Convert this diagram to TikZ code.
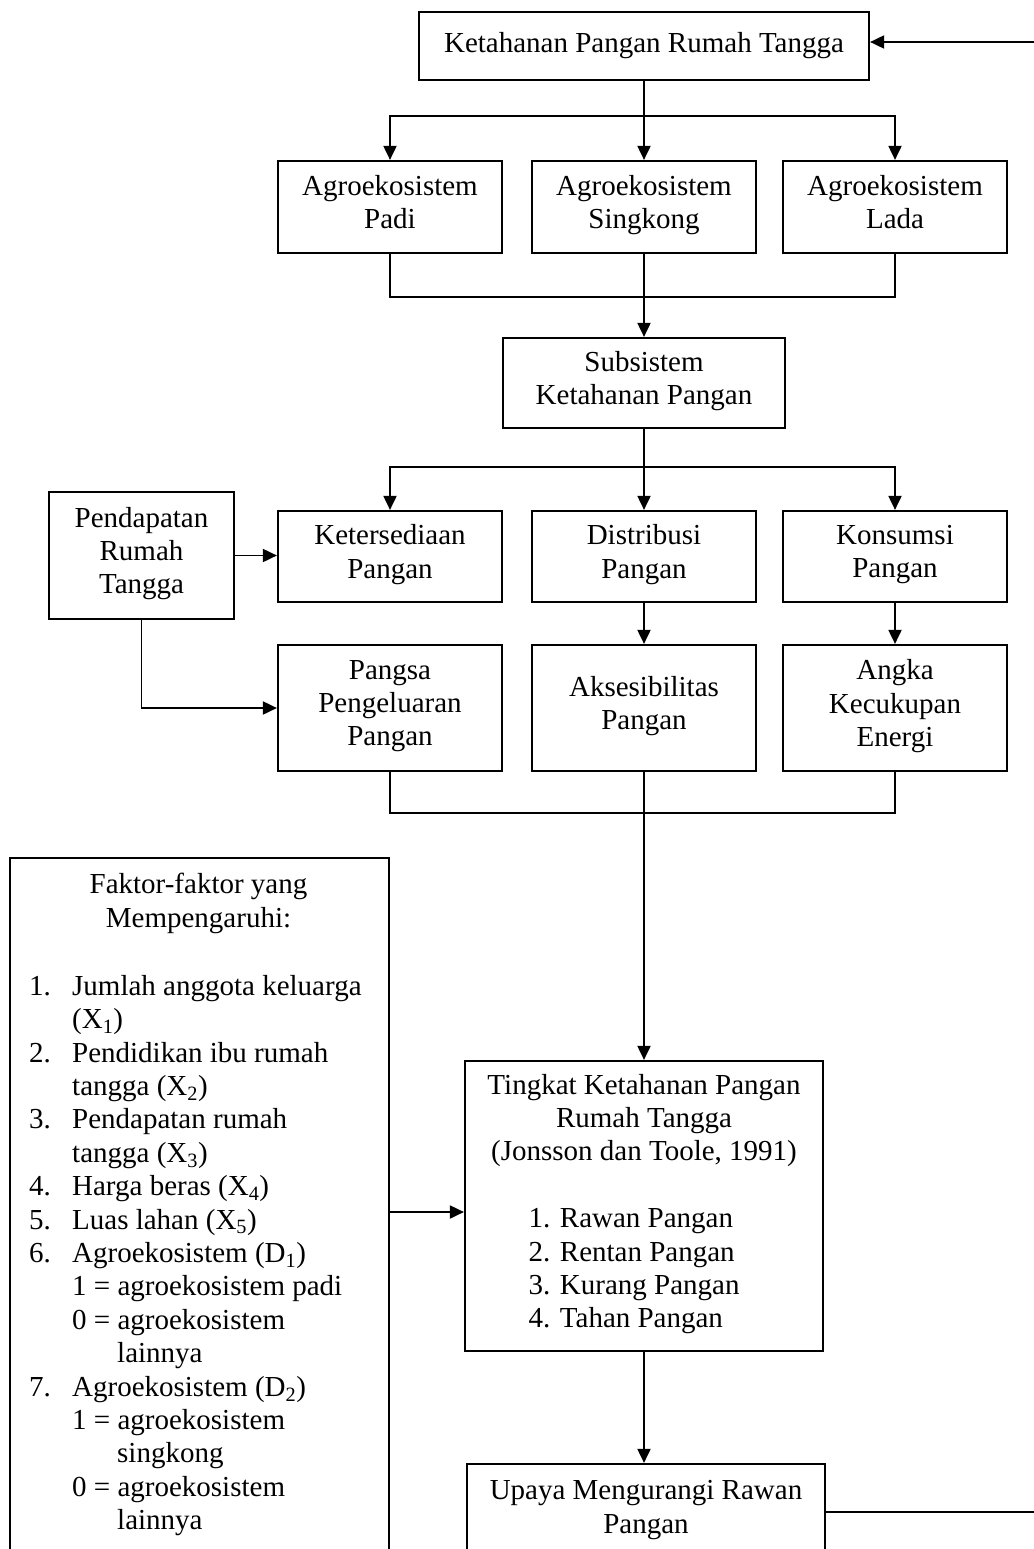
\documentclass[tikz,border=0pt]{standalone}
\usepackage{fontspec}
\setmainfont{Liberation Serif}
\usetikzlibrary{arrows.meta}
\begin{document}
\begin{tikzpicture}[x=1pt,y=-1pt,
  txt/.style={font=\fontsize{29}{33.4}\selectfont, inner sep=0pt},
  box/.style={draw, line width=2.2pt, align=center, txt,
    execute at begin node=\strut, execute at end node={\rule[-3pt]{0pt}{3pt}}},
  oneline/.style={execute at end node=\strut},
  arr/.style={line width=1.9pt, -{Triangle[length=14pt,width=13pt]}},
  ln/.style={line width=1.9pt},
  thinln/.style={line width=1.3pt}]
\useasboundingbox (0,0) rectangle (1033,1549);
\fill[white] (0,0) rectangle (1033,1549);

% nodes
\node[box, oneline, minimum width=450pt, minimum height=68pt] (top) at (644,46) {Ketahanan Pangan Rumah Tangga};

\node[box, minimum width=224pt, minimum height=92pt] (padi) at (390,207) {Agroekosistem\\Padi};
\node[box, minimum width=224pt, minimum height=92pt] (sing) at (644,207) {Agroekosistem\\Singkong};
\node[box, minimum width=224pt, minimum height=92pt] (lada) at (895,207) {Agroekosistem\\Lada};

\node[box, minimum width=282pt, minimum height=90pt] (subs) at (644,383) {Subsistem\\Ketahanan Pangan};

\node[box, minimum width=185pt, minimum height=127pt] (pend) at (141.5,555.5) {Pendapatan\\Rumah\\Tangga};
\node[box, minimum width=224pt, minimum height=91pt] (keter) at (390,556.5) {Ketersediaan\\Pangan};
\node[box, minimum width=224pt, minimum height=91pt] (distr) at (644,556.5) {Distribusi\\Pangan};
\node[box, minimum width=224pt, minimum height=91pt] (kons) at (895,556.5) {Konsumsi\\Pangan};

\node[box, minimum width=224pt, minimum height=126pt] (pangsa) at (390,708) {Pangsa\\Pengeluaran\\Pangan};
\node[box, minimum width=224pt, minimum height=126pt] (akses) at (644,708) {Aksesibilitas\\Pangan};
\node[box, minimum width=224pt, minimum height=126pt] (angka) at (895,708) {Angka\\Kecukupan\\Energi};

\node[draw, line width=2.2pt, minimum width=379pt, minimum height=713pt, anchor=north west, inner sep=0pt] (faktor) at (9,857) {};
\node[txt, align=center, anchor=north] (fhead) at (198.5,873) {Faktor-faktor yang\\Mempengaruhi:};
\node[txt, align=left, anchor=north west] (flist) at (29,975) {%
\makebox[43pt][l]{1.}Jumlah anggota keluarga\\
\hspace*{43pt}(X\textsubscript{1})\\
\makebox[43pt][l]{2.}Pendidikan ibu rumah\\
\hspace*{43pt}tangga (X\textsubscript{2})\\
\makebox[43pt][l]{3.}Pendapatan rumah\\
\hspace*{43pt}tangga (X\textsubscript{3})\\
\makebox[43pt][l]{4.}Harga beras (X\textsubscript{4})\\
\makebox[43pt][l]{5.}Luas lahan (X\textsubscript{5})\\
\makebox[43pt][l]{6.}Agroekosistem (D\textsubscript{1})\\
\hspace*{43pt}1 = agroekosistem padi\\
\hspace*{43pt}0 = agroekosistem\\
\hspace*{88pt}lainnya\\
\makebox[43pt][l]{7.}Agroekosistem (D\textsubscript{2})\\
\hspace*{43pt}1 = agroekosistem\\
\hspace*{88pt}singkong\\
\hspace*{43pt}0 = agroekosistem\\
\hspace*{88pt}lainnya};

\node[box, minimum width=358pt, minimum height=290pt] (tingkat) at (644,1206) {Tingkat Ketahanan Pangan\\Rumah Tangga\\(Jonsson dan Toole, 1991)\\[33.4pt]\begin{tabular}[t]{@{}l@{\hspace{20pt}}}1. Rawan Pangan\\2. Rentan Pangan\\3. Kurang Pangan\\4. Tahan Pangan\end{tabular}};

\node[box, minimum width=358pt, minimum height=96pt] (upaya) at (646,1512) {Upaya Mengurangi Rawan\\Pangan};

% connectors
\coordinate (j1) at (644,116);
\coordinate (j2) at (644,297);
\coordinate (j3) at (644,467);
\coordinate (j4) at (644,813);
\coordinate (fa) at (388,1212);
\coordinate (fb1) at (1045,1512);
\coordinate (fb2) at (1045,42);

\draw[ln] (top.south) -- (j1);
\draw[arr] (j1) -| (padi.north);
\draw[arr] (j1) -| (lada.north);
\draw[arr] (j1) -- (sing.north);

\draw[thinln] (padi.south) |- (j2) -| (lada.south);
\draw[arr] (sing.south) -- (subs.north);

\draw[ln] (subs.south) -- (j3);
\draw[arr] (j3) -| (keter.north);
\draw[arr] (j3) -| (kons.north);
\draw[arr] (j3) -- (distr.north);

\draw[arr] (pend.east) -- (keter.west |- pend.east);
\draw[arr] (pend.south) |- (pangsa.west);
\draw[arr] (distr.south) -- (akses.north);
\draw[arr] (kons.south) -- (angka.north);

\draw[thinln] (pangsa.south) |- (j4) -| (angka.south);
\draw[ln] (akses.south) -- (j4);
\draw[arr] (j4) -- (tingkat.north);

\draw[arr] (faktor.east |- fa) -- (tingkat.west |- fa);
\draw[arr] (tingkat.south) -- (upaya.north -| tingkat.south);
\draw[arr] (upaya.east) -- (fb1) -- (fb2) -- (top.east |- fb2);
\end{tikzpicture}
\end{document}
